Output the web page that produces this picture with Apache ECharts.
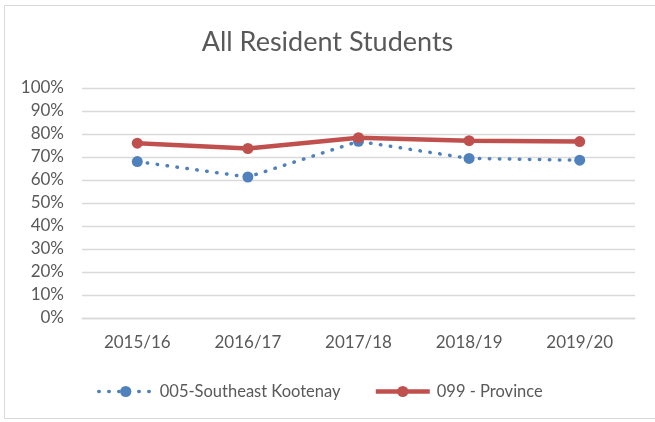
<!DOCTYPE html>
<html>
<head>
<meta charset="utf-8">
<script src="https://cdn.jsdelivr.net/npm/echarts@6/dist/echarts.min.js"></script>
<style>
    html, body { margin: 0; padding: 0; background: #fff; }
    #frame { position: absolute; left: 4px; top: 5px; width: 660px; height: 414px; border: 1.5px solid #d9d9d9; box-sizing: border-box; }
    #chart { position: absolute; left: 0; top: 0; width: 655px; height: 422px; }
</style>
</head>
<body>
<div id="frame"></div>
<div id="chart"></div>
<script>
var categories = ['2015/16', '2016/17', '2017/18', '2018/19', '2019/20'];
var kootenay = [0.68, 0.613, 0.768, 0.694, 0.686];
var province = [0.76, 0.737, 0.784, 0.771, 0.767];
var seriesNames = ['005-Southeast Kootenay', '099 - Province'];

var font = 'Lato, "Open Sans", sans-serif';
var blueLine = { color: '#4F81BD', width: 3.5, type: [0.5, 9.5], cap: 'round' };
var redLine = { color: '#C0504D', width: 4.5 };
var chart = echarts.init(document.getElementById('chart'));
chart.setOption({
    animation: false,
    title: {
        text: 'All Resident Students',
        left: 'center',
        top: 24,
        textStyle: { fontFamily: font, fontSize: 27, fontWeight: 'normal', color: '#595959' }
    },
    legend: {
        top: 378,
        left: 92,
        itemWidth: 54,
        itemHeight: 14,
        itemGap: 33,
        textStyle: { fontFamily: font, fontSize: 16.5, color: '#595959', padding: [0, 0, 0, 2] },
        data: [
            { name: seriesNames[0], lineStyle: blueLine },
            { name: seriesNames[1], lineStyle: redLine }
        ]
    },
    grid: { left: 82, right: 20, top: 88, bottom: 104 },
    xAxis: {
        type: 'category',
        data: categories,
        boundaryGap: true,
        axisLine: { lineStyle: { color: '#d9d9d9', width: 1.3 } },
        axisTick: { show: false },
        axisLabel: { fontFamily: font, fontSize: 17, color: '#595959', margin: 16 }
    },
    yAxis: {
        type: 'value',
        min: 0,
        max: 1,
        interval: 0.1,
        axisLine: { show: false },
        axisTick: { show: false },
        splitLine: { lineStyle: { color: '#d9d9d9', width: 1.3 } },
        axisLabel: {
            fontFamily: font, fontSize: 17, color: '#595959', margin: 18,
            formatter: function (v) { return Math.round(v * 100) + '%'; }
        }
    },
    series: [
        {
            name: seriesNames[0],
            type: 'line',
            data: kootenay,
            symbol: 'circle',
            symbolSize: 11,
            itemStyle: { color: '#4F81BD' },
            lineStyle: blueLine,
            z: 2
        },
        {
            name: seriesNames[1],
            type: 'line',
            data: province,
            symbol: 'circle',
            symbolSize: 11,
            itemStyle: { color: '#C0504D' },
            lineStyle: redLine,
            z: 3
        }
    ]
});
</script>
</body>
</html>
